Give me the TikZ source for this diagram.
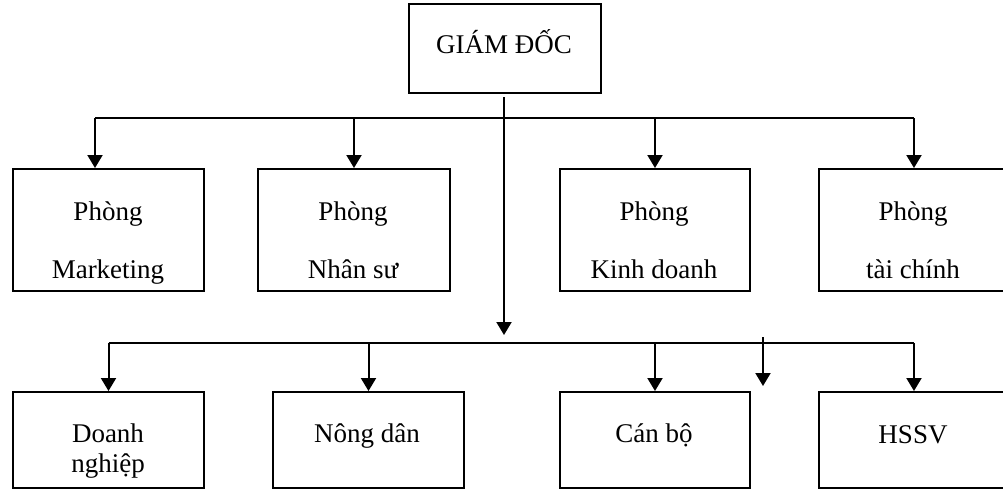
\documentclass[tikz,border=0pt]{standalone}
\usepackage{fontspec}
\setmainfont{Liberation Serif}
\usetikzlibrary{arrows.meta}
\begin{document}
\begin{tikzpicture}[x=1pt,y=-1pt,line width=2pt,
  box/.style={draw,line width=2pt,inner sep=0pt,anchor=north west},
  lbl/.style={anchor=base,inner sep=0pt,font=\fontsize{27}{32}\selectfont},
  arr/.style={-{Triangle[length=13pt,width=15pt]}}]
\useasboundingbox (0,0) rectangle (1003,488);
\clip (0,0) rectangle (1003,488);
% boxes
\node[box,minimum width=192pt,minimum height=89pt] (gd) at (408,3) {};
\node[box,minimum width=191pt,minimum height=122pt] (m1) at (12,168) {};
\node[box,minimum width=192pt,minimum height=122pt] (m2) at (257,168) {};
\node[box,minimum width=190pt,minimum height=122pt] (m3) at (559,168) {};
\node[box,minimum width=190pt,minimum height=122pt] (m4) at (818,168) {};
\node[box,minimum width=191pt,minimum height=96pt] (d1) at (12,391) {};
\node[box,minimum width=191pt,minimum height=96pt] (d2) at (272,391) {};
\node[box,minimum width=190pt,minimum height=96pt] (d3) at (559,391) {};
\node[box,minimum width=190pt,minimum height=96pt] (d4) at (818,391) {};
% labels
\node[lbl] (tgd) at (504,53) {GIÁM ĐỐC};
\node[lbl] (tm1a) at (108,220) {Phòng};
\node[lbl] (tm1b) at (108,278) {Marketing};
\node[lbl] (tm2a) at (353,220) {Phòng};
\node[lbl] (tm2b) at (353,278) {Nhân sư};
\node[lbl] (tm3a) at (654,220) {Phòng};
\node[lbl] (tm3b) at (654,278) {Kinh doanh};
\node[lbl] (tm4a) at (913,220) {Phòng};
\node[lbl] (tm4b) at (913,278) {tài chính};
\node[lbl] (td1a) at (108,442) {Doanh};
\node[lbl] (td1b) at (108,472) {nghiệp};
\node[lbl] (td2) at (367,442) {Nông dân};
\node[lbl] (td3) at (654,442) {Cán bộ};
\node[lbl] (td4) at (913,443) {HSSV};
% connector coordinates
\coordinate (bar1) at (504,118);
\coordinate (bar2) at (504,343);
\coordinate (v0) at (504,97);
\coordinate (v1) at (504,335);
\coordinate (s0) at (763,337);
\coordinate (s1) at (763,386);
\coordinate (a1) at ([xshift=-13.5pt]m1.north);
% connectors
\draw (a1 |- bar1) -- (m4.north |- bar1);
\draw[arr] (v0) -- (v1);
\draw[arr] (a1 |- bar1) -- (a1);
\draw[arr] (m2.north |- bar1) -- (m2.north);
\draw[arr] (m3.north |- bar1) -- (m3.north);
\draw[arr] (m4.north |- bar1) -- (m4.north);
\draw (d1.north |- bar2) -- (d4.north |- bar2);
\draw[arr] (d1.north |- bar2) -- (d1.north);
\draw[arr] (d2.north |- bar2) -- (d2.north);
\draw[arr] (d3.north |- bar2) -- (d3.north);
\draw[arr] (d4.north |- bar2) -- (d4.north);
\draw[arr] (s0) -- (s1);
\end{tikzpicture}
\end{document}
